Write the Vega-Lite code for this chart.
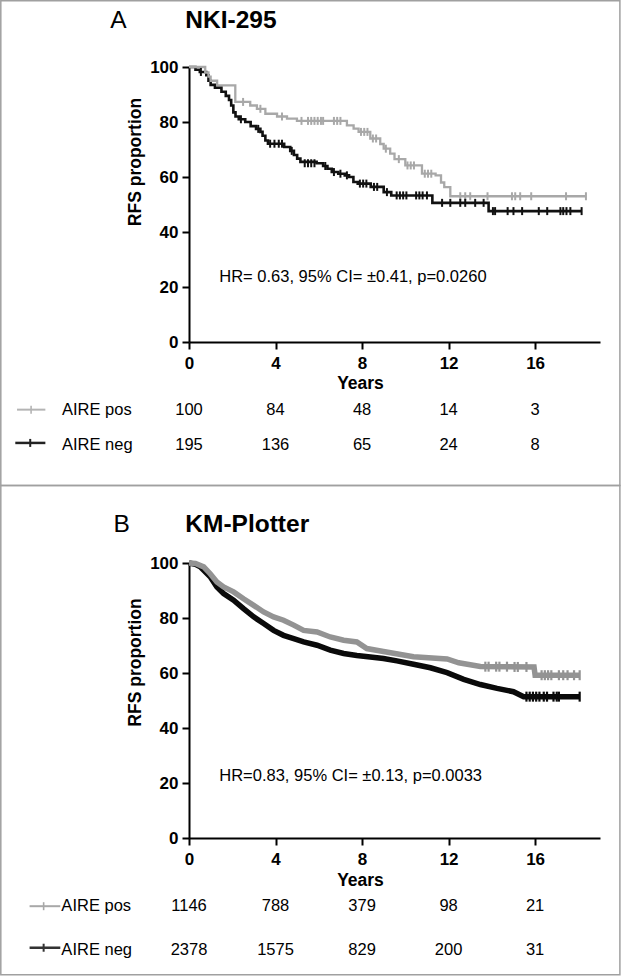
{
  "$schema": "https://vega.github.io/schema/vega-lite/v6.json",
  "padding": 0,
  "background": "white",
  "bounds": "flush",
  "spacing": 221,
  "config": {
    "view": {"stroke": null},
    "font": "Liberation Sans",
    "axis": {"domainColor": "black", "domainWidth": 2, "tickColor": "black", "tickWidth": 2, "tickSize": 7, "labelFont": "Liberation Sans", "labelFontSize": 17, "labelFontWeight": "bold", "labelColor": "black", "titleFont": "Liberation Sans", "titleFontSize": 17.5, "titleFontWeight": "bold", "titleColor": "black", "grid": false}
  },
  "datasets": {
    "kmA": [
      {"grp": "AIRE pos", "t": 0, "v": 100}, {"grp": "AIRE pos", "t": 0.75, "v": 98}, {"grp": "AIRE pos", "t": 0.9, "v": 96.5}, {"grp": "AIRE pos", "t": 1.0, "v": 95}, {"grp": "AIRE pos", "t": 1.3, "v": 93.3},
      {"grp": "AIRE pos", "t": 2.14, "v": 87.3}, {"grp": "AIRE pos", "t": 2.83, "v": 86}, {"grp": "AIRE pos", "t": 3.14, "v": 84.8}, {"grp": "AIRE pos", "t": 3.53, "v": 83}, {"grp": "AIRE pos", "t": 4.07, "v": 82},
      {"grp": "AIRE pos", "t": 4.53, "v": 81.2}, {"grp": "AIRE pos", "t": 4.99, "v": 80.4}, {"grp": "AIRE pos", "t": 7.3, "v": 78.8}, {"grp": "AIRE pos", "t": 7.61, "v": 77.6}, {"grp": "AIRE pos", "t": 7.84, "v": 76.4},
      {"grp": "AIRE pos", "t": 8.38, "v": 74}, {"grp": "AIRE pos", "t": 8.84, "v": 72}, {"grp": "AIRE pos", "t": 9.0, "v": 70.3}, {"grp": "AIRE pos", "t": 9.3, "v": 68.5}, {"grp": "AIRE pos", "t": 9.5, "v": 66.5},
      {"grp": "AIRE pos", "t": 10.0, "v": 64.2}, {"grp": "AIRE pos", "t": 10.77, "v": 61.2}, {"grp": "AIRE pos", "t": 11.4, "v": 60.6}, {"grp": "AIRE pos", "t": 11.65, "v": 58}, {"grp": "AIRE pos", "t": 11.8, "v": 56.3},
      {"grp": "AIRE pos", "t": 12.08, "v": 53}, {"grp": "AIRE pos", "t": 18.35, "v": 53},
      {"grp": "AIRE neg", "t": 0, "v": 100}, {"grp": "AIRE neg", "t": 0.3, "v": 99}, {"grp": "AIRE neg", "t": 0.5, "v": 98.2}, {"grp": "AIRE neg", "t": 0.8, "v": 97}, {"grp": "AIRE neg", "t": 0.9, "v": 95},
      {"grp": "AIRE neg", "t": 1.0, "v": 93.5}, {"grp": "AIRE neg", "t": 1.2, "v": 92.5}, {"grp": "AIRE neg", "t": 1.5, "v": 91}, {"grp": "AIRE neg", "t": 1.7, "v": 89.5}, {"grp": "AIRE neg", "t": 1.85, "v": 88},
      {"grp": "AIRE neg", "t": 1.95, "v": 86}, {"grp": "AIRE neg", "t": 2.05, "v": 83.5}, {"grp": "AIRE neg", "t": 2.15, "v": 82}, {"grp": "AIRE neg", "t": 2.3, "v": 81}, {"grp": "AIRE neg", "t": 2.6, "v": 80},
      {"grp": "AIRE neg", "t": 2.85, "v": 78.5}, {"grp": "AIRE neg", "t": 3.1, "v": 77.5}, {"grp": "AIRE neg", "t": 3.3, "v": 76.4}, {"grp": "AIRE neg", "t": 3.4, "v": 75}, {"grp": "AIRE neg", "t": 3.53, "v": 73.3},
      {"grp": "AIRE neg", "t": 3.65, "v": 72.1}, {"grp": "AIRE neg", "t": 4.4, "v": 70.9}, {"grp": "AIRE neg", "t": 4.68, "v": 69.5}, {"grp": "AIRE neg", "t": 4.85, "v": 68}, {"grp": "AIRE neg", "t": 5.0, "v": 66.7},
      {"grp": "AIRE neg", "t": 5.15, "v": 65.5}, {"grp": "AIRE neg", "t": 5.9, "v": 65}, {"grp": "AIRE neg", "t": 6.2, "v": 64}, {"grp": "AIRE neg", "t": 6.4, "v": 63}, {"grp": "AIRE neg", "t": 6.6, "v": 61.8},
      {"grp": "AIRE neg", "t": 6.9, "v": 61.2}, {"grp": "AIRE neg", "t": 7.2, "v": 60.6}, {"grp": "AIRE neg", "t": 7.4, "v": 60}, {"grp": "AIRE neg", "t": 7.6, "v": 58.2}, {"grp": "AIRE neg", "t": 7.8, "v": 57.6},
      {"grp": "AIRE neg", "t": 8.4, "v": 56.4}, {"grp": "AIRE neg", "t": 9.0, "v": 54.5}, {"grp": "AIRE neg", "t": 9.35, "v": 53.3}, {"grp": "AIRE neg", "t": 11.25, "v": 50.6}, {"grp": "AIRE neg", "t": 13.85, "v": 47.6},
      {"grp": "AIRE neg", "t": 18.15, "v": 47.6}
    ],
    "censA": [
      {"grp": "AIRE pos", "t": 2.5, "v": 87.3}, {"grp": "AIRE pos", "t": 3.3, "v": 84.8}, {"grp": "AIRE pos", "t": 4.3, "v": 82}, {"grp": "AIRE pos", "t": 5.2, "v": 80.4}, {"grp": "AIRE pos", "t": 5.5, "v": 80.4},
      {"grp": "AIRE pos", "t": 5.65, "v": 80.4}, {"grp": "AIRE pos", "t": 5.8, "v": 80.4}, {"grp": "AIRE pos", "t": 5.95, "v": 80.4}, {"grp": "AIRE pos", "t": 6.1, "v": 80.4}, {"grp": "AIRE pos", "t": 6.2, "v": 80.4},
      {"grp": "AIRE pos", "t": 6.7, "v": 80.4}, {"grp": "AIRE pos", "t": 6.85, "v": 80.4}, {"grp": "AIRE pos", "t": 7.0, "v": 80.4}, {"grp": "AIRE pos", "t": 7.95, "v": 76.4}, {"grp": "AIRE pos", "t": 8.1, "v": 76.4},
      {"grp": "AIRE pos", "t": 8.25, "v": 76.4}, {"grp": "AIRE pos", "t": 8.5, "v": 74}, {"grp": "AIRE pos", "t": 8.65, "v": 74}, {"grp": "AIRE pos", "t": 9.1, "v": 70.3}, {"grp": "AIRE pos", "t": 9.7, "v": 66.5},
      {"grp": "AIRE pos", "t": 10.1, "v": 64.2}, {"grp": "AIRE pos", "t": 10.25, "v": 64.2}, {"grp": "AIRE pos", "t": 10.4, "v": 64.2}, {"grp": "AIRE pos", "t": 10.9, "v": 61.2}, {"grp": "AIRE pos", "t": 11.05, "v": 61.2},
      {"grp": "AIRE pos", "t": 11.2, "v": 61.2}, {"grp": "AIRE pos", "t": 12.54, "v": 53}, {"grp": "AIRE pos", "t": 12.77, "v": 53}, {"grp": "AIRE pos", "t": 13.0, "v": 53}, {"grp": "AIRE pos", "t": 13.8, "v": 53},
      {"grp": "AIRE pos", "t": 14.93, "v": 53}, {"grp": "AIRE pos", "t": 15.08, "v": 53}, {"grp": "AIRE pos", "t": 15.31, "v": 53}, {"grp": "AIRE pos", "t": 15.82, "v": 53}, {"grp": "AIRE pos", "t": 17.43, "v": 53},
      {"grp": "AIRE pos", "t": 18.35, "v": 53},
      {"grp": "AIRE neg", "t": 0.55, "v": 98.2}, {"grp": "AIRE neg", "t": 2.4, "v": 81}, {"grp": "AIRE neg", "t": 3.2, "v": 77.5}, {"grp": "AIRE neg", "t": 3.75, "v": 72.1}, {"grp": "AIRE neg", "t": 3.95, "v": 72.1},
      {"grp": "AIRE neg", "t": 4.15, "v": 72.1}, {"grp": "AIRE neg", "t": 4.3, "v": 72.1}, {"grp": "AIRE neg", "t": 4.75, "v": 69.5}, {"grp": "AIRE neg", "t": 5.35, "v": 65}, {"grp": "AIRE neg", "t": 5.5, "v": 65},
      {"grp": "AIRE neg", "t": 5.65, "v": 65}, {"grp": "AIRE neg", "t": 5.8, "v": 65}, {"grp": "AIRE neg", "t": 6.3, "v": 64}, {"grp": "AIRE neg", "t": 6.7, "v": 61.8}, {"grp": "AIRE neg", "t": 7.0, "v": 61.2},
      {"grp": "AIRE neg", "t": 7.3, "v": 60.6}, {"grp": "AIRE neg", "t": 7.9, "v": 57.6}, {"grp": "AIRE neg", "t": 8.05, "v": 57.6}, {"grp": "AIRE neg", "t": 8.2, "v": 57.6}, {"grp": "AIRE neg", "t": 8.55, "v": 56.4},
      {"grp": "AIRE neg", "t": 8.7, "v": 56.4}, {"grp": "AIRE neg", "t": 9.15, "v": 54.5}, {"grp": "AIRE neg", "t": 9.6, "v": 53.3}, {"grp": "AIRE neg", "t": 9.75, "v": 53.3}, {"grp": "AIRE neg", "t": 9.9, "v": 53.3},
      {"grp": "AIRE neg", "t": 10.05, "v": 53.3}, {"grp": "AIRE neg", "t": 10.5, "v": 53.3}, {"grp": "AIRE neg", "t": 10.65, "v": 53.3}, {"grp": "AIRE neg", "t": 10.8, "v": 53.3}, {"grp": "AIRE neg", "t": 11.0, "v": 53.3},
      {"grp": "AIRE neg", "t": 11.7, "v": 50.6}, {"grp": "AIRE neg", "t": 12.08, "v": 50.6}, {"grp": "AIRE neg", "t": 12.54, "v": 50.6}, {"grp": "AIRE neg", "t": 12.77, "v": 50.6}, {"grp": "AIRE neg", "t": 13.23, "v": 50.6},
      {"grp": "AIRE neg", "t": 13.62, "v": 50.6}, {"grp": "AIRE neg", "t": 14.05, "v": 47.6}, {"grp": "AIRE neg", "t": 14.15, "v": 47.6}, {"grp": "AIRE neg", "t": 14.73, "v": 47.6}, {"grp": "AIRE neg", "t": 15.0, "v": 47.6},
      {"grp": "AIRE neg", "t": 15.4, "v": 47.6}, {"grp": "AIRE neg", "t": 16.17, "v": 47.6}, {"grp": "AIRE neg", "t": 16.56, "v": 47.6}, {"grp": "AIRE neg", "t": 17.17, "v": 47.6}, {"grp": "AIRE neg", "t": 17.3, "v": 47.6},
      {"grp": "AIRE neg", "t": 17.45, "v": 47.6}, {"grp": "AIRE neg", "t": 17.63, "v": 47.6}, {"grp": "AIRE neg", "t": 18.15, "v": 47.6}
    ],
    "riskA": [
      {"grp": "AIRE pos", "t": 0, "n": 100}, {"grp": "AIRE pos", "t": 4, "n": 84}, {"grp": "AIRE pos", "t": 8, "n": 48}, {"grp": "AIRE pos", "t": 12, "n": 14}, {"grp": "AIRE pos", "t": 16, "n": 3},
      {"grp": "AIRE neg", "t": 0, "n": 195}, {"grp": "AIRE neg", "t": 4, "n": 136}, {"grp": "AIRE neg", "t": 8, "n": 65}, {"grp": "AIRE neg", "t": 12, "n": 24}, {"grp": "AIRE neg", "t": 16, "n": 8}
    ],
    "kmB": [
      {"grp": "AIRE pos", "t": 0, "v": 100}, {"grp": "AIRE pos", "t": 0.3, "v": 99.8}, {"grp": "AIRE pos", "t": 0.68, "v": 98.6}, {"grp": "AIRE pos", "t": 0.98, "v": 96.1}, {"grp": "AIRE pos", "t": 1.29, "v": 93.1},
      {"grp": "AIRE pos", "t": 1.6, "v": 91.3}, {"grp": "AIRE pos", "t": 2.06, "v": 89.5}, {"grp": "AIRE pos", "t": 2.52, "v": 87}, {"grp": "AIRE pos", "t": 2.99, "v": 84.6}, {"grp": "AIRE pos", "t": 3.45, "v": 82.2},
      {"grp": "AIRE pos", "t": 3.91, "v": 80.4}, {"grp": "AIRE pos", "t": 4.37, "v": 79.2}, {"grp": "AIRE pos", "t": 4.84, "v": 77.4}, {"grp": "AIRE pos", "t": 5.3, "v": 75.5}, {"grp": "AIRE pos", "t": 5.92, "v": 74.9},
      {"grp": "AIRE pos", "t": 6.53, "v": 73.1}, {"grp": "AIRE pos", "t": 7.15, "v": 71.9}, {"grp": "AIRE pos", "t": 7.76, "v": 71.3}, {"grp": "AIRE pos", "t": 8.22, "v": 68.9}, {"grp": "AIRE pos", "t": 8.99, "v": 67.8},
      {"grp": "AIRE pos", "t": 10.38, "v": 65.9}, {"grp": "AIRE pos", "t": 11.93, "v": 65.1}, {"grp": "AIRE pos", "t": 12.47, "v": 63.7}, {"grp": "AIRE pos", "t": 13.47, "v": 62.4}, {"grp": "AIRE pos", "t": 15.95, "v": 62.2},
      {"grp": "AIRE pos", "t": 16.0, "v": 59.2}, {"grp": "AIRE pos", "t": 18.06, "v": 59.2},
      {"grp": "AIRE neg", "t": 0, "v": 100}, {"grp": "AIRE neg", "t": 0.3, "v": 99.5}, {"grp": "AIRE neg", "t": 0.52, "v": 98.6}, {"grp": "AIRE neg", "t": 0.98, "v": 95}, {"grp": "AIRE neg", "t": 1.29, "v": 91.3},
      {"grp": "AIRE neg", "t": 1.6, "v": 88.9}, {"grp": "AIRE neg", "t": 2.06, "v": 86.5}, {"grp": "AIRE neg", "t": 2.52, "v": 83.4}, {"grp": "AIRE neg", "t": 2.99, "v": 80.4}, {"grp": "AIRE neg", "t": 3.45, "v": 78},
      {"grp": "AIRE neg", "t": 3.91, "v": 75.5}, {"grp": "AIRE neg", "t": 4.37, "v": 73.7}, {"grp": "AIRE neg", "t": 4.84, "v": 72.5}, {"grp": "AIRE neg", "t": 5.3, "v": 71.3}, {"grp": "AIRE neg", "t": 5.92, "v": 70.1},
      {"grp": "AIRE neg", "t": 6.53, "v": 68.3}, {"grp": "AIRE neg", "t": 7.15, "v": 67.1}, {"grp": "AIRE neg", "t": 7.76, "v": 66.4}, {"grp": "AIRE neg", "t": 8.38, "v": 65.8}, {"grp": "AIRE neg", "t": 8.99, "v": 65.3},
      {"grp": "AIRE neg", "t": 9.61, "v": 64.4}, {"grp": "AIRE neg", "t": 10.38, "v": 63.2}, {"grp": "AIRE neg", "t": 11.16, "v": 61.9}, {"grp": "AIRE neg", "t": 11.93, "v": 60.1}, {"grp": "AIRE neg", "t": 12.7, "v": 57.7},
      {"grp": "AIRE neg", "t": 13.47, "v": 55.8}, {"grp": "AIRE neg", "t": 14.24, "v": 54.4}, {"grp": "AIRE neg", "t": 15.0, "v": 53.2}, {"grp": "AIRE neg", "t": 15.47, "v": 51.4}, {"grp": "AIRE neg", "t": 18.06, "v": 51.4}
    ],
    "censB": [
      {"grp": "AIRE pos", "t": 13.7, "v": 62.3}, {"grp": "AIRE pos", "t": 13.85, "v": 62.3}, {"grp": "AIRE pos", "t": 14.2, "v": 62.3}, {"grp": "AIRE pos", "t": 14.35, "v": 62.3}, {"grp": "AIRE pos", "t": 14.7, "v": 62.3},
      {"grp": "AIRE pos", "t": 15.05, "v": 62.2}, {"grp": "AIRE pos", "t": 15.2, "v": 62.2}, {"grp": "AIRE pos", "t": 15.6, "v": 62.2}, {"grp": "AIRE pos", "t": 16.3, "v": 59.2}, {"grp": "AIRE pos", "t": 16.45, "v": 59.2},
      {"grp": "AIRE pos", "t": 16.6, "v": 59.2}, {"grp": "AIRE pos", "t": 16.75, "v": 59.2}, {"grp": "AIRE pos", "t": 17.1, "v": 59.2}, {"grp": "AIRE pos", "t": 17.3, "v": 59.2}, {"grp": "AIRE pos", "t": 17.5, "v": 59.2},
      {"grp": "AIRE pos", "t": 17.8, "v": 59.2}, {"grp": "AIRE pos", "t": 18.06, "v": 59.2},
      {"grp": "AIRE neg", "t": 15.6, "v": 51.4}, {"grp": "AIRE neg", "t": 15.75, "v": 51.4}, {"grp": "AIRE neg", "t": 15.9, "v": 51.4}, {"grp": "AIRE neg", "t": 16.05, "v": 51.4}, {"grp": "AIRE neg", "t": 16.2, "v": 51.4},
      {"grp": "AIRE neg", "t": 16.4, "v": 51.4}, {"grp": "AIRE neg", "t": 16.55, "v": 51.4}, {"grp": "AIRE neg", "t": 16.85, "v": 51.4}, {"grp": "AIRE neg", "t": 17.0, "v": 51.4}, {"grp": "AIRE neg", "t": 17.1, "v": 51.4},
      {"grp": "AIRE neg", "t": 18.06, "v": 51.4}
    ],
    "riskB": [
      {"grp": "AIRE pos", "t": 0, "n": 1146}, {"grp": "AIRE pos", "t": 4, "n": 788}, {"grp": "AIRE pos", "t": 8, "n": 379}, {"grp": "AIRE pos", "t": 12, "n": 98}, {"grp": "AIRE pos", "t": 16, "n": 21},
      {"grp": "AIRE neg", "t": 0, "n": 2378}, {"grp": "AIRE neg", "t": 4, "n": 1575}, {"grp": "AIRE neg", "t": 8, "n": 829}, {"grp": "AIRE neg", "t": 12, "n": 200}, {"grp": "AIRE neg", "t": 16, "n": 31}
    ]
  },
  "vconcat": [
    {
      "width": 411,
      "height": 275,
      "layer": [
        {
          "data": {"name": "kmA"},
          "transform": [{"filter": "datum.grp === 'AIRE neg'"}],
          "mark": {"type": "line", "interpolate": "step-after", "color": "#111111", "strokeWidth": 2.6},
          "encoding": {
            "x": {"field": "t", "type": "quantitative", "scale": {"domain": [0, 19], "nice": false}, "axis": {"values": [0, 4, 8, 12, 16], "title": "Years", "titleX": 171, "titleY": 41.5, "titleAlign": "center", "titleBaseline": "middle", "labelPadding": 6, "labelFlush": false}},
            "y": {"field": "v", "type": "quantitative", "scale": {"domain": [0, 100], "nice": false}, "axis": {"values": [0, 20, 40, 60, 80, 100], "title": "RFS proportion", "titleX": -54, "titleY": 94.5, "titleAngle": -90, "titleAlign": "center", "titleBaseline": "middle", "labelPadding": 4}}
          }
        },
        {
          "data": {"name": "kmA"},
          "transform": [{"filter": "datum.grp === 'AIRE pos'"}],
          "mark": {"type": "line", "interpolate": "step-after", "color": "#a8a8a8", "strokeWidth": 2.3},
          "encoding": {"x": {"field": "t", "type": "quantitative"}, "y": {"field": "v", "type": "quantitative"}}
        },
        {
          "data": {"name": "censA"},
          "mark": {"type": "point", "shape": "M0,-1L0,1", "filled": false, "strokeWidth": 2, "size": 64, "opacity": 1},
          "encoding": {
            "x": {"field": "t", "type": "quantitative"},
            "y": {"field": "v", "type": "quantitative"},
            "color": {"field": "grp", "type": "nominal", "scale": {"domain": ["AIRE pos", "AIRE neg"], "range": ["#a8a8a8", "#111111"]}, "legend": null}
          }
        },
        {
          "data": {"values": [{}]},
          "mark": {"type": "text", "text": "HR= 0.63, 95% CI= ±0.41, p=0.0260", "align": "left", "baseline": "middle", "fontSize": 16.5, "color": "black"},
          "encoding": {"x": {"datum": 1.4, "type": "quantitative"}, "y": {"datum": 23.6, "type": "quantitative"}}
        },
        {
          "data": {"values": [{}]},
          "mark": {"type": "text", "text": "A", "align": "left", "baseline": "middle", "fontSize": 24.5, "color": "black"},
          "encoding": {"x": {"datum": -3.64, "type": "quantitative"}, "y": {"datum": 116.8, "type": "quantitative"}}
        },
        {
          "data": {"values": [{}]},
          "mark": {"type": "text", "text": "NKI-295", "align": "left", "baseline": "middle", "fontSize": 24.5, "fontWeight": "bold", "color": "black"},
          "encoding": {"x": {"datum": -0.17, "type": "quantitative"}, "y": {"datum": 116.8, "type": "quantitative"}}
        },
        {
          "data": {"name": "riskA"},
          "transform": [{"filter": "datum.grp === 'AIRE pos'"}],
          "mark": {"type": "text", "align": "center", "baseline": "middle", "fontSize": 16.5, "color": "black"},
          "encoding": {"x": {"field": "t", "type": "quantitative"}, "y": {"datum": -24.8, "type": "quantitative"}, "text": {"field": "n"}}
        },
        {
          "data": {"name": "riskA"},
          "transform": [{"filter": "datum.grp === 'AIRE neg'"}],
          "mark": {"type": "text", "align": "center", "baseline": "middle", "fontSize": 16.5, "color": "black"},
          "encoding": {"x": {"field": "t", "type": "quantitative"}, "y": {"datum": -37.5, "type": "quantitative"}, "text": {"field": "n"}}
        },
        {
          "data": {"values": [{}]},
          "mark": {"type": "text", "text": "AIRE pos", "align": "left", "baseline": "middle", "fontSize": 16.5, "color": "black"},
          "encoding": {"x": {"datum": -5.87, "type": "quantitative"}, "y": {"datum": -24.8, "type": "quantitative"}}
        },
        {
          "data": {"values": [{}]},
          "mark": {"type": "text", "text": "AIRE neg", "align": "left", "baseline": "middle", "fontSize": 16.5, "color": "black"},
          "encoding": {"x": {"datum": -5.87, "type": "quantitative"}, "y": {"datum": -37.5, "type": "quantitative"}}
        },
        {
          "data": {"values": [{}]},
          "mark": {"type": "rule", "color": "#b4b4b4", "strokeWidth": 2},
          "encoding": {"x": {"datum": -7.95, "type": "quantitative"}, "x2": {"datum": -6.64}, "y": {"datum": -24.6, "type": "quantitative"}}
        },
        {
          "data": {"values": [{}]},
          "mark": {"type": "point", "shape": "M0,-1L0,1", "filled": false, "strokeWidth": 1.6, "size": 64, "color": "#b4b4b4", "opacity": 1},
          "encoding": {"x": {"datum": -7.3, "type": "quantitative"}, "y": {"datum": -24.6, "type": "quantitative"}}
        },
        {
          "data": {"values": [{}]},
          "mark": {"type": "rule", "color": "#222222", "strokeWidth": 2.5},
          "encoding": {"x": {"datum": -8.03, "type": "quantitative"}, "x2": {"datum": -6.64}, "y": {"datum": -36.7, "type": "quantitative"}}
        },
        {
          "data": {"values": [{}]},
          "mark": {"type": "point", "shape": "M0,-1L0,1", "filled": false, "strokeWidth": 2, "size": 64, "color": "#222222", "opacity": 1},
          "encoding": {"x": {"datum": -7.34, "type": "quantitative"}, "y": {"datum": -36.7, "type": "quantitative"}}
        },
        {
          "data": {"values": [{}]},
          "mark": {"type": "rect", "fill": null, "stroke": "#a0a0a0", "strokeWidth": 1.5},
          "encoding": {"x": {"datum": -8.7, "type": "quantitative"}, "x2": {"datum": 19.92}, "y": {"datum": 124.07, "type": "quantitative"}, "y2": {"datum": -52.2}}
        }
      ]
    },
    {
      "width": 411,
      "height": 275,
      "layer": [
        {
          "data": {"name": "kmB"},
          "transform": [{"filter": "datum.grp === 'AIRE neg'"}],
          "mark": {"type": "line", "color": "#0a0a0a", "strokeWidth": 5.5},
          "encoding": {
            "x": {"field": "t", "type": "quantitative", "scale": {"domain": [0, 19], "nice": false}, "axis": {"values": [0, 4, 8, 12, 16], "title": "Years", "titleX": 171, "titleY": 42.5, "titleAlign": "center", "titleBaseline": "middle", "labelPadding": 6, "labelFlush": false}},
            "y": {"field": "v", "type": "quantitative", "scale": {"domain": [0, 100], "nice": false}, "axis": {"values": [0, 20, 40, 60, 80, 100], "title": "RFS proportion", "titleX": -54, "titleY": 99, "titleAngle": -90, "titleAlign": "center", "titleBaseline": "middle", "labelPadding": 4}}
          }
        },
        {
          "data": {"name": "kmB"},
          "transform": [{"filter": "datum.grp === 'AIRE pos'"}],
          "mark": {"type": "line", "color": "#939393", "strokeWidth": 5.5},
          "encoding": {"x": {"field": "t", "type": "quantitative"}, "y": {"field": "v", "type": "quantitative"}}
        },
        {
          "data": {"name": "censB"},
          "mark": {"type": "point", "shape": "M0,-1L0,1", "filled": false, "strokeWidth": 2.2, "size": 100, "opacity": 1},
          "encoding": {
            "x": {"field": "t", "type": "quantitative"},
            "y": {"field": "v", "type": "quantitative"},
            "color": {"field": "grp", "type": "nominal", "scale": {"domain": ["AIRE pos", "AIRE neg"], "range": ["#939393", "#0a0a0a"]}, "legend": null}
          }
        },
        {
          "data": {"values": [{}]},
          "mark": {"type": "text", "text": "HR=0.83, 95% CI= ±0.13, p=0.0033", "align": "left", "baseline": "middle", "fontSize": 16.5, "color": "black"},
          "encoding": {"x": {"datum": 1.4, "type": "quantitative"}, "y": {"datum": 22.4, "type": "quantitative"}}
        },
        {
          "data": {"values": [{}]},
          "mark": {"type": "text", "text": "B", "align": "left", "baseline": "middle", "fontSize": 24.5, "color": "black"},
          "encoding": {"x": {"datum": -3.49, "type": "quantitative"}, "y": {"datum": 113.7, "type": "quantitative"}}
        },
        {
          "data": {"values": [{}]},
          "mark": {"type": "text", "text": "KM-Plotter", "align": "left", "baseline": "middle", "fontSize": 24.5, "fontWeight": "bold", "color": "black"},
          "encoding": {"x": {"datum": -0.17, "type": "quantitative"}, "y": {"datum": 113.7, "type": "quantitative"}}
        },
        {
          "data": {"name": "riskB"},
          "transform": [{"filter": "datum.grp === 'AIRE pos'"}],
          "mark": {"type": "text", "align": "center", "baseline": "middle", "fontSize": 16.5, "color": "black"},
          "encoding": {"x": {"field": "t", "type": "quantitative"}, "y": {"datum": -24.8, "type": "quantitative"}, "text": {"field": "n"}}
        },
        {
          "data": {"name": "riskB"},
          "transform": [{"filter": "datum.grp === 'AIRE neg'"}],
          "mark": {"type": "text", "align": "center", "baseline": "middle", "fontSize": 16.5, "color": "black"},
          "encoding": {"x": {"field": "t", "type": "quantitative"}, "y": {"datum": -40.8, "type": "quantitative"}, "text": {"field": "n"}}
        },
        {
          "data": {"values": [{}]},
          "mark": {"type": "text", "text": "AIRE pos", "align": "left", "baseline": "middle", "fontSize": 16.5, "color": "black"},
          "encoding": {"x": {"datum": -5.9, "type": "quantitative"}, "y": {"datum": -24.8, "type": "quantitative"}}
        },
        {
          "data": {"values": [{}]},
          "mark": {"type": "text", "text": "AIRE neg", "align": "left", "baseline": "middle", "fontSize": 16.5, "color": "black"},
          "encoding": {"x": {"datum": -5.9, "type": "quantitative"}, "y": {"datum": -40.8, "type": "quantitative"}}
        },
        {
          "data": {"values": [{}]},
          "mark": {"type": "rule", "color": "#a8a8a8", "strokeWidth": 2},
          "encoding": {"x": {"datum": -7.37, "type": "quantitative"}, "x2": {"datum": -5.95}, "y": {"datum": -24.8, "type": "quantitative"}}
        },
        {
          "data": {"values": [{}]},
          "mark": {"type": "point", "shape": "M0,-1L0,1", "filled": false, "strokeWidth": 1.6, "size": 64, "color": "#a8a8a8", "opacity": 1},
          "encoding": {"x": {"datum": -6.72, "type": "quantitative"}, "y": {"datum": -24.8, "type": "quantitative"}}
        },
        {
          "data": {"values": [{}]},
          "mark": {"type": "rule", "color": "#333333", "strokeWidth": 2.5},
          "encoding": {"x": {"datum": -7.37, "type": "quantitative"}, "x2": {"datum": -5.95}, "y": {"datum": -39.9, "type": "quantitative"}}
        },
        {
          "data": {"values": [{}]},
          "mark": {"type": "point", "shape": "M0,-1L0,1", "filled": false, "strokeWidth": 2, "size": 64, "color": "#333333", "opacity": 1},
          "encoding": {"x": {"datum": -6.72, "type": "quantitative"}, "y": {"datum": -39.9, "type": "quantitative"}}
        },
        {
          "data": {"values": [{}]},
          "mark": {"type": "rect", "fill": null, "stroke": "#a0a0a0", "strokeWidth": 1.5},
          "encoding": {"x": {"datum": -8.7, "type": "quantitative"}, "x2": {"datum": 19.92}, "y": {"datum": 128.15, "type": "quantitative"}, "y2": {"datum": -49.75}}
        }
      ]
    }
  ],
  "resolve": {"scale": {"color": "independent"}}
}
